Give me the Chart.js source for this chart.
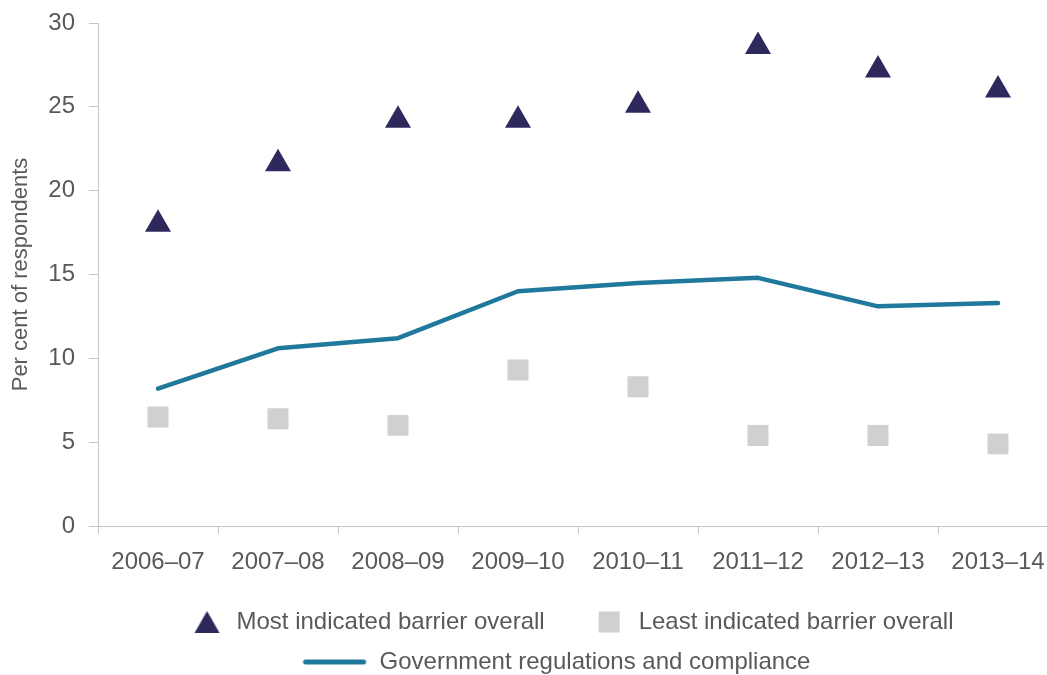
<!DOCTYPE html>
<html>
<head>
<meta charset="utf-8">
<script src="https://cdn.jsdelivr.net/npm/chart.js@4"></script>
<style>
  html, body { margin: 0; padding: 0; background: #fff; overflow: hidden; }
  #wrap { width: 1112px; height: 684px; }
</style>
</head>
<body>
<div id="wrap"><canvas id="myChart" width="1112" height="684"></canvas></div>
<script>
const categories = ['2006–07', '2007–08', '2008–09', '2009–10', '2010–11', '2011–12', '2012–13', '2013–14']
const mostIndicated = [18.0, 21.6, 24.2, 24.2, 25.1, 28.6, 27.2, 26.0]
const leastIndicated = [6.5, 6.4, 6.0, 9.3, 8.3, 5.4, 5.4, 4.9]
const govRegulations = [8.2, 10.6, 11.2, 14.0, 14.5, 14.8, 13.1, 13.3]
const yTicks = [0, 5, 10, 15, 20, 25, 30]

const navy = '#2e295c'
const lightGrey = '#d1cfd1'
const teal = '#20799c'
const textGrey = '#595959'
const axisGrey = '#c6c6c6'

Chart.defaults.font.family = "'Liberation Sans', Arial, sans-serif"
Chart.defaults.color = textGrey

// legend swatches (drawn off-centre so the gaps look like the original)
function swatch(draw) {
  const c = document.createElement('canvas')
  c.width = 66
  c.height = 26
  draw(c.getContext('2d'))
  return c
}
const triSwatch = swatch(g => {
  g.fillStyle = navy
  g.beginPath()
  g.moveTo(48.5, 2)
  g.lineTo(61, 24)
  g.lineTo(36, 24)
  g.closePath()
  g.fill()
})
const sqSwatch = swatch(g => {
  g.fillStyle = lightGrey
  g.fillRect(38, 2.5, 21, 21)
})
const lineSwatch = swatch(g => {
  g.strokeStyle = teal
  g.lineWidth = 5
  g.lineCap = 'round'
  g.beginPath()
  g.moveTo(4, 13)
  g.lineTo(62, 13)
  g.stroke()
})
const swatches = [triSwatch, sqSwatch, lineSwatch]

const ctx = document.getElementById('myChart')

new Chart(ctx, {
  type: 'line',
  data: {
    labels: categories,
    datasets: [
      {
        label: 'Most indicated barrier overall',
        data: mostIndicated,
        showLine: false,
        pointStyle: 'triangle',
        pointRadius: 15,
        pointBorderWidth: 0,
        pointBackgroundColor: navy,
        backgroundColor: navy,
        borderColor: navy
      },
      {
        label: 'Least indicated barrier overall',
        data: leastIndicated,
        showLine: false,
        pointStyle: 'rect',
        pointRadius: 14.8,
        pointBorderWidth: 0,
        pointBackgroundColor: lightGrey,
        backgroundColor: lightGrey,
        borderColor: lightGrey
      },
      {
        label: 'Government regulations and compliance',
        data: govRegulations,
        borderColor: teal,
        backgroundColor: teal,
        borderWidth: 4.5,
        borderCapStyle: 'round',
        borderJoinStyle: 'round',
        pointRadius: 0,
        tension: 0
      }
    ]
  },
  options: {
    responsive: false,
    animation: false,
    layout: { padding: { top: 23, left: 0, right: 0, bottom: 0 } },
    plugins: {
      tooltip: { enabled: false },
      legend: {
        position: 'bottom',
        labels: {
          usePointStyle: true,
          pointStyleWidth: 66,
          boxHeight: 24,
          padding: 16,
          font: { size: 24 },
          color: textGrey,
          generateLabels: chart => chart.data.datasets.map((ds, i) => ({
            text: ds.label,
            pointStyle: swatches[i],
            fillStyle: ds.backgroundColor,
            strokeStyle: ds.borderColor,
            lineWidth: 0,
            fontColor: textGrey,
            hidden: false,
            datasetIndex: i
          }))
        }
      }
    },
    scales: {
      x: {
        offset: true,
        grid: { display: true, offset: true, drawOnChartArea: false, drawTicks: true, tickLength: 8, color: axisGrey },
        border: { display: true, color: axisGrey },
        ticks: { padding: 14, font: { size: 24 }, color: textGrey, maxRotation: 0, autoSkip: false },
        afterFit: s => { s.height = 68 }
      },
      y: {
        min: 0,
        max: 30,
        afterBuildTicks: s => { s.ticks = yTicks.map(v => ({ value: v })) },
        grid: { display: true, drawOnChartArea: false, drawTicks: true, tickLength: 9, color: axisGrey },
        border: { display: true, color: axisGrey },
        ticks: { padding: 14, font: { size: 24 }, color: textGrey },
        title: {
          display: true,
          text: 'Per cent of respondents',
          font: { size: 22 },
          color: textGrey,
          padding: { top: 8, bottom: 0 }
        },
        // tick padding also pads the top of the plot; keep only the label half height
        afterFit: s => {
          s.width = 98
          s.paddingTop = 14
          s.paddingBottom = 14
        }
      },
      // empty axis on the right, only there to push the plot edge past the window
      yRight: {
        position: 'right',
        display: true,
        grid: { display: false },
        border: { display: false },
        ticks: { display: false },
        afterFit: s => { s.width = 54 }
      }
    }
  }
})
</script>
</body>
</html>
